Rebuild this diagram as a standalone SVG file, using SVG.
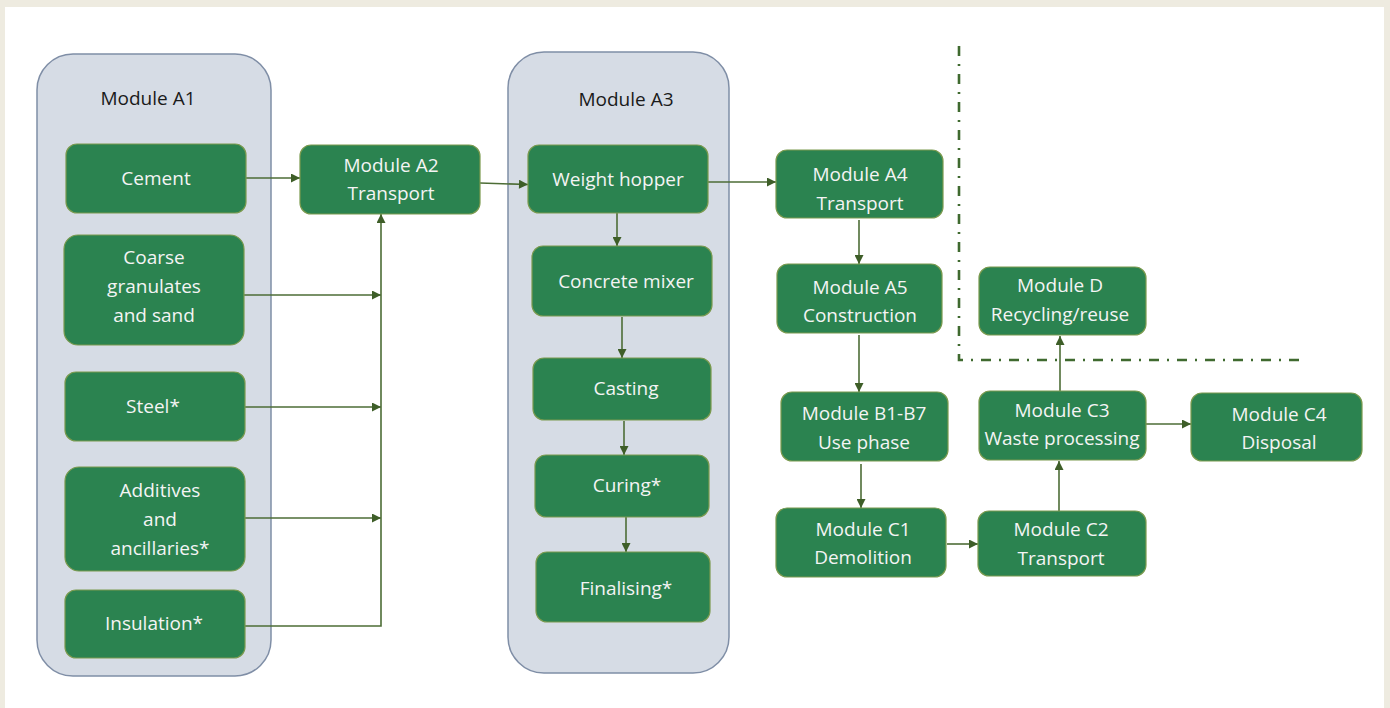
<svg xmlns="http://www.w3.org/2000/svg" width="1390" height="708" viewBox="0 0 1390 708">
<style>
.ctn{fill:#d6dce5;stroke:#7f8ea6;stroke-width:1.5}
.box{fill:#2b8350;stroke:#7a9a4e;stroke-width:1.2}
.t{font-family:"Open Sans","Liberation Sans",sans-serif;font-size:19px;fill:#f4f4f4;text-anchor:middle}
.lbl{font-family:"Open Sans","Liberation Sans",sans-serif;font-size:19px;fill:#1a1a1a;text-anchor:middle}
.c{fill:none;stroke:#4d6d36;stroke-width:1.6}
.dd{fill:none;stroke:#3f6a2f;stroke-width:2.6;stroke-dasharray:10 8 2 8}
</style>
<defs>
<marker id="ah" viewBox="0 0 10 10" refX="10" refY="5" markerWidth="10" markerHeight="9" markerUnits="userSpaceOnUse" orient="auto">
<path d="M0,0 L10,5 L0,10 z" fill="#3e5e28"/>
</marker>
</defs>
<rect x="0" y="0" width="1390" height="708" fill="#eeebe0"/>
<rect x="5" y="7" width="1379" height="701" fill="#ffffff"/>

<g id="moduleA1">
<rect class="ctn" x="37" y="54" width="234" height="622" rx="36"/>
<text class="lbl" x="148" y="105">Module A1</text>
</g>
<g id="moduleA3">
<rect class="ctn" x="508" y="52" width="221" height="621" rx="36"/>
<text class="lbl" x="626" y="106">Module A3</text>
</g>

<g id="connectors">
<line class="c" x1="246" y1="178" x2="300" y2="178" marker-end="url(#ah)"/>
<line class="c" x1="244" y1="295" x2="381" y2="295" marker-end="url(#ah)"/>
<line class="c" x1="245" y1="407" x2="381" y2="407" marker-end="url(#ah)"/>
<line class="c" x1="245" y1="518" x2="381" y2="518" marker-end="url(#ah)"/>
<polyline class="c" points="245,626 381,626 381,214" marker-end="url(#ah)"/>
<line class="c" x1="480" y1="183" x2="528" y2="184.5" marker-end="url(#ah)"/>
<line class="c" x1="617" y1="213" x2="617" y2="246" marker-end="url(#ah)"/>
<line class="c" x1="622" y1="317" x2="622" y2="358" marker-end="url(#ah)"/>
<line class="c" x1="624" y1="421" x2="624" y2="455" marker-end="url(#ah)"/>
<line class="c" x1="626" y1="517" x2="626" y2="552" marker-end="url(#ah)"/>
<line class="c" x1="708" y1="182" x2="776" y2="182" marker-end="url(#ah)"/>
<line class="c" x1="859" y1="220" x2="859" y2="264" marker-end="url(#ah)"/>
<line class="c" x1="859" y1="335" x2="859" y2="392" marker-end="url(#ah)"/>
<line class="c" x1="861" y1="464" x2="861" y2="508" marker-end="url(#ah)"/>
<line class="c" x1="947" y1="544" x2="978" y2="544" marker-end="url(#ah)"/>
<line class="c" x1="1059" y1="511" x2="1059" y2="461" marker-end="url(#ah)"/>
<line class="c" x1="1060" y1="391" x2="1060" y2="336" marker-end="url(#ah)"/>
<line class="c" x1="1146" y1="424" x2="1191" y2="424" marker-end="url(#ah)"/>
<polyline class="dd" points="959,46 959,360 1304,360"/>
</g>

<g id="cement"><rect class="box" x="66" y="144" width="180" height="69" rx="11"/><text class="t" x="156" y="185">Cement</text></g>
<g id="coarse"><rect class="box" x="64" y="235" width="180" height="110" rx="14"/><text class="t" x="154" y="264">Coarse</text><text class="t" x="154" y="293">granulates</text><text class="t" x="154" y="322">and sand</text></g>
<g id="steel"><rect class="box" x="65" y="372" width="180" height="69" rx="11"/><text class="t" x="153" y="413">Steel*</text></g>
<g id="additives"><rect class="box" x="65" y="467" width="180" height="104" rx="14"/><text class="t" x="160" y="497">Additives</text><text class="t" x="160" y="526">and</text><text class="t" x="160" y="555">ancillaries*</text></g>
<g id="insulation"><rect class="box" x="65" y="590" width="180" height="68" rx="11"/><text class="t" x="154" y="630">Insulation*</text></g>

<g id="moduleA2"><rect class="box" x="300" y="145" width="180" height="69" rx="11"/><text class="t" x="391" y="172">Module A2</text><text class="t" x="391" y="200">Transport</text></g>

<g id="weight-hopper"><rect class="box" x="528" y="145" width="180" height="68" rx="11"/><text class="t" x="618" y="186">Weight hopper</text></g>
<g id="concrete-mixer"><rect class="box" x="532" y="246" width="180" height="70" rx="11"/><text class="t" x="626" y="288">Concrete mixer</text></g>
<g id="casting"><rect class="box" x="533" y="358" width="178" height="62" rx="11"/><text class="t" x="626" y="395">Casting</text></g>
<g id="curing"><rect class="box" x="535" y="455" width="174" height="62" rx="11"/><text class="t" x="627" y="492">Curing*</text></g>
<g id="finalising"><rect class="box" x="536" y="552" width="174" height="70" rx="11"/><text class="t" x="626" y="595">Finalising*</text></g>

<g id="moduleA4"><rect class="box" x="776" y="150" width="167" height="68" rx="11"/><text class="t" x="860" y="181">Module A4</text><text class="t" x="860" y="210">Transport</text></g>
<g id="moduleA5"><rect class="box" x="777" y="264" width="165" height="69" rx="11"/><text class="t" x="860" y="294">Module A5</text><text class="t" x="860" y="322">Construction</text></g>
<g id="moduleB"><rect class="box" x="781" y="392" width="167" height="69" rx="11"/><text class="t" x="864" y="420">Module B1-B7</text><text class="t" x="864" y="449">Use phase</text></g>
<g id="moduleC1"><rect class="box" x="776" y="508" width="170" height="69" rx="11"/><text class="t" x="863" y="536">Module C1</text><text class="t" x="863" y="564">Demolition</text></g>
<g id="moduleC2"><rect class="box" x="978" y="511" width="168" height="65" rx="11"/><text class="t" x="1061" y="536">Module C2</text><text class="t" x="1061" y="565">Transport</text></g>
<g id="moduleC3"><rect class="box" x="979" y="391" width="167" height="69" rx="11"/><text class="t" x="1062" y="417">Module C3</text><text class="t" x="1062" y="445">Waste processing</text></g>
<g id="moduleC4"><rect class="box" x="1191" y="393" width="171" height="68" rx="11"/><text class="t" x="1279" y="421">Module C4</text><text class="t" x="1279" y="449">Disposal</text></g>
<g id="moduleD"><rect class="box" x="979" y="267" width="167" height="68" rx="11"/><text class="t" x="1060" y="292">Module D</text><text class="t" x="1060" y="321">Recycling/reuse</text></g>
</svg>
